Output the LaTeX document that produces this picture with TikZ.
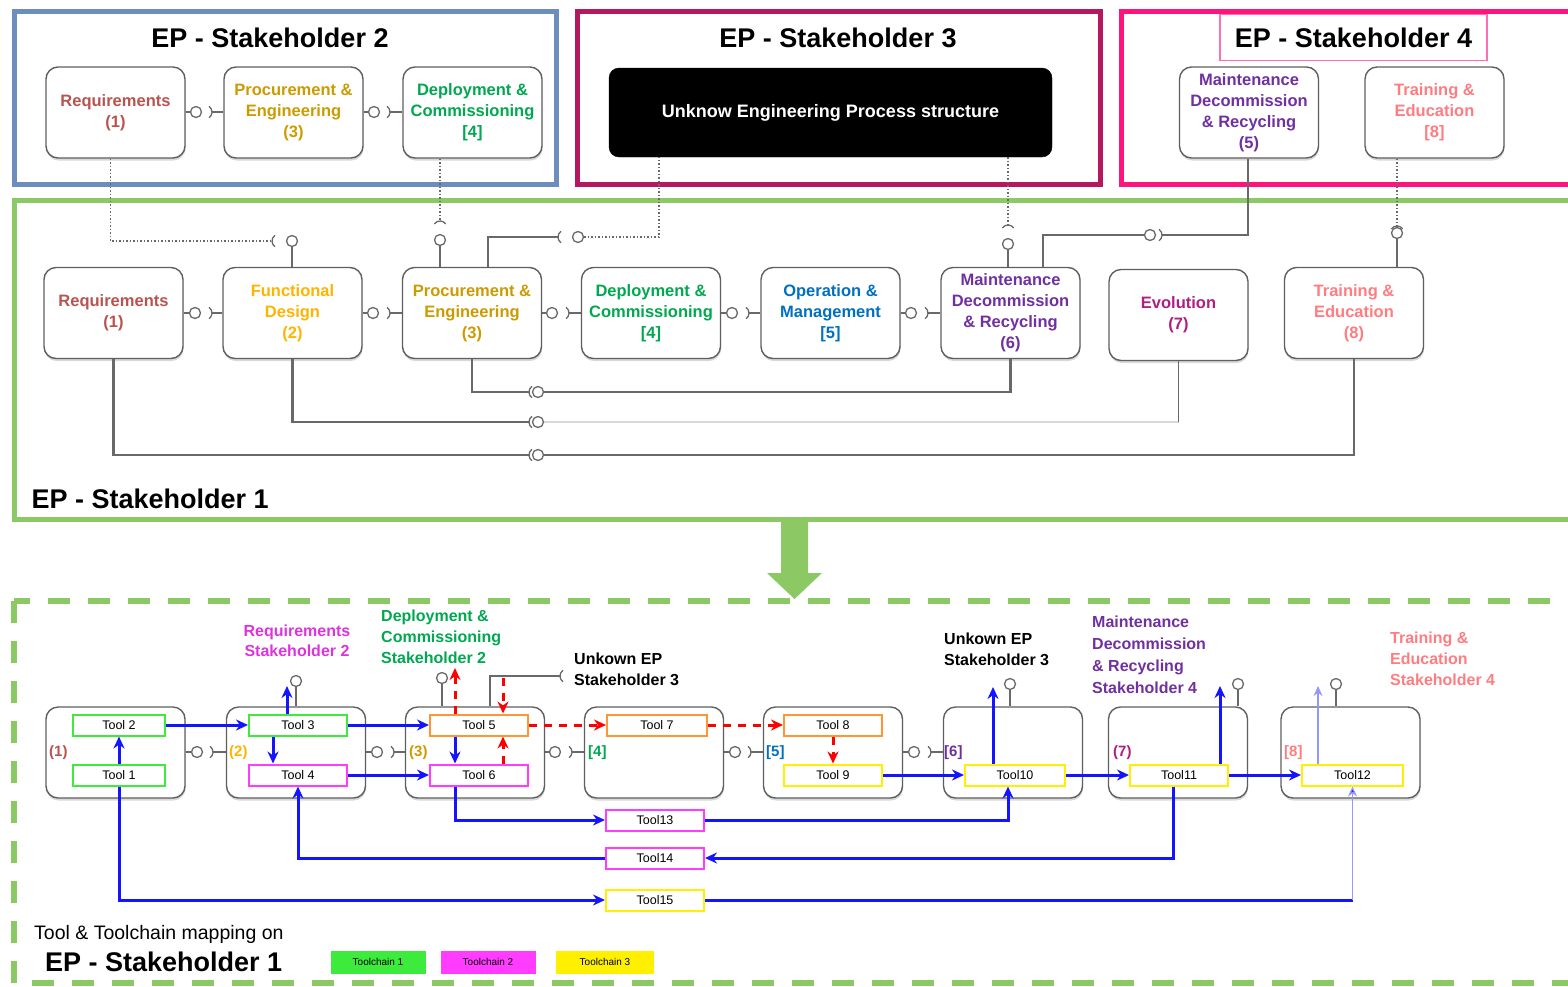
\documentclass[tikz,border=0pt]{standalone}
\usepackage{fontspec}
\setmainfont{Liberation Sans}
\usetikzlibrary{arrows.meta,shadows}

% frame colours
\definecolor{shTwo}{RGB}{108,142,191}
\definecolor{shThree}{RGB}{181,24,95}
\definecolor{shFour}{RGB}{255,20,125}
\definecolor{shFourLight}{RGB}{255,110,180}
\definecolor{shOne}{RGB}{140,200,100}
\definecolor{boxGray}{RGB}{95,95,95}
% phase colours
\definecolor{cReq}{RGB}{184,84,80}
\definecolor{cFunc}{RGB}{255,180,0}
\definecolor{cProc}{RGB}{204,155,0}
\definecolor{cDep}{RGB}{0,168,80}
\definecolor{cOp}{RGB}{0,112,192}
\definecolor{cMaint}{RGB}{112,48,160}
\definecolor{cEvo}{RGB}{176,30,130}
\definecolor{cTrain}{RGB}{255,124,128}
\definecolor{cReqTwo}{RGB}{221,51,221}
% toolchain colours
\definecolor{tcGreen}{RGB}{60,235,60}
\definecolor{tcMagenta}{RGB}{255,60,255}
\definecolor{tcYellow}{RGB}{255,240,0}
\definecolor{tcOrange}{RGB}{255,150,50}
\definecolor{flowBlue}{RGB}{20,20,255}
\definecolor{lightBlue}{RGB}{150,150,255}
\definecolor{flowRed}{RGB}{255,0,0}
\definecolor{connGray}{RGB}{105,105,105}

\newcommand{\fsz}[2]{\fontsize{#1}{#2}\selectfont}

\tikzset{
  shframe/.style={line width=5pt},
  procbox/.style={draw=boxGray, line width=1.4pt, rounded corners=12pt,
    minimum width=139pt, minimum height=91pt, fill=white, align=center,
    inner sep=0pt, font=\bfseries\fsz{16.5}{21},
    drop shadow={shadow xshift=0.5pt, shadow yshift=-2.5pt, opacity=0.3, fill=gray}},
  toolbox/.style={draw, line width=2pt, fill=white, minimum width=98pt,
    minimum height=21pt, inner sep=0pt, font=\fsz{12.5}{14}},
  ballnode/.style={circle, draw=connGray, line width=1.3pt, minimum size=11pt,
    inner sep=0pt, fill=white},
  conn/.style={draw=connGray, line width=1.3pt},
  backconn/.style={draw=connGray, line width=2.2pt},
  dotconn/.style={draw=connGray, line width=1.2pt, dash pattern=on 1.5pt off 2pt},
  blueflow/.style={draw=flowBlue, line width=3pt, -{Stealth[length=12pt,width=11pt]}},
  redflow/.style={draw=flowRed, line width=3pt, dash pattern=on 8pt off 7pt,
    -{Stealth[length=12pt,width=11pt]}},
  ttl/.style={font=\bfseries\fsz{27}{30}},
  annot/.style={font=\bfseries\fsz{16}{21}, align=left, inner sep=0pt, anchor=west},
  lvl/.style={font=\bfseries\fsz{15}{17}, inner sep=0pt, anchor=west},
  % sockets: apex at the pic origin
  sockL/.pic={\draw[conn] (-2.985,-5.734) arc[start angle=-55,end angle=55,radius=7];},
  sockR/.pic={\draw[conn] (2.985,-5.734) arc[start angle=235,end angle=125,radius=7];},
  sockD/.pic={\draw[conn] (-5.734,2.985) arc[start angle=215,end angle=325,radius=7];},
}

% ball-and-socket link between two neighbouring boxes
\newcommand{\lolly}[6]{%
  \node[ballnode] (#6b) at (#3,#5) {};
  \coordinate (#6s) at (#4,#5);
  \draw[conn] (#1.east |- #6b) -- (#6b);
  \draw[conn] (#6s) -- (#6s -| #2.west);
  \pic at (#6s) {sockL};
}

\begin{document}
\begin{tikzpicture}[x=1pt,y=-1pt]
\useasboundingbox (0,0) rectangle (1568,986);

% ---------------- Stakeholder 2 ----------------
\draw[shframe, draw=shTwo] (14,11) rectangle (556,184);
\node[ttl] (ttlTwo) at (270,38) {EP - Stakeholder 2};
\node[procbox, text=cReq]  (t_req)  at (115.5,112.5) {Requirements\\(1)};
\node[procbox, text=cProc] (t_proc) at (293.5,112.5) {Procurement \&\\Engineering\\(3)};
\node[procbox, text=cDep]  (t_dep)  at (472.5,112.5) {Deployment \&\\Commissioning\\{[4]}};
\lolly{t_req}{t_proc}{196}{212}{112}{tA}
\lolly{t_proc}{t_dep}{374}{390}{112}{tB}

% ---------------- Stakeholder 3 ----------------
\draw[shframe, draw=shThree] (577,11) rectangle (1100,184);
\node[ttl] (ttlThree) at (838,38) {EP - Stakeholder 3};
\node[draw=black, fill=black, rounded corners=10pt, minimum width=443pt,
      minimum height=89pt, text=white, font=\bfseries\fsz{18}{21}]
      (unk) at (830.5,112.5) {Unknow Engineering Process structure};

% ---------------- Stakeholder 4 ----------------
\draw[shframe, draw=shFour] (1121,11) rectangle (1600,184);
\node[draw=shFourLight, line width=1.5pt, minimum width=267pt, minimum height=46pt,
      ttl] (ttlFour) at (1353.5,37.5) {EP - Stakeholder 4};
\node[procbox, text=cMaint] (t_maint) at (1249,112.5) {Maintenance\\Decommission\\\& Recycling\\(5)};
\node[procbox, text=cTrain] (t_train) at (1434.5,112.5) {Training \&\\Education\\{[8]}};

% ---------------- Stakeholder 1 ----------------
\draw[shframe, draw=shOne] (14,200) rectangle (1600,519);
\node[ttl, anchor=west] (ttlOne) at (28,499) {EP - Stakeholder 1};

\node[procbox, text=cReq]   (s_req)   at (113.5,313) {Requirements\\(1)};
\node[procbox, text=cFunc]  (s_fd)    at (292.5,313) {Functional\\Design\\(2)};
\node[procbox, text=cProc]  (s_proc)  at (472,313)   {Procurement \&\\Engineering\\(3)};
\node[procbox, text=cDep]   (s_dep)   at (651,313)   {Deployment \&\\Commissioning\\{[4]}};
\node[procbox, text=cOp]    (s_op)    at (830.5,313) {Operation \&\\Management\\{[5]}};
\node[procbox, text=cMaint] (s_maint) at (1010.5,313) {Maintenance\\Decommission\\\& Recycling\\(6)};
\node[procbox, text=cEvo]   (s_evo)   at (1178.5,315) {Evolution\\(7)};
\node[procbox, text=cTrain] (s_train) at (1354,313)  {Training \&\\Education\\(8)};

\lolly{s_req}{s_fd}{195}{212}{313}{sA}
\lolly{s_fd}{s_proc}{373}{390}{313}{sB}
\lolly{s_proc}{s_dep}{552}{569}{313}{sC}
\lolly{s_dep}{s_op}{732}{749}{313}{sD}
\lolly{s_op}{s_maint}{911}{928}{313}{sE}

% links from the other stakeholders
\coordinate (u1) at (272,241);
\draw[dotconn] ([xshift=-5pt]t_req.south) |- (u1);
\pic at (u1) {sockR};
\node[ballnode] (ub1) at (292,241) {};
\draw[conn] (ub1) -- (ub1 |- s_fd.north);

\coordinate (u2) at (440,221);
\draw[dotconn] (t_dep.south -| u2) -- (u2);
\pic at (u2) {sockD};
\node[ballnode] (ub2) at (440,240) {};
\draw[conn] (ub2) -- (ub2 |- s_proc.north);

\coordinate (u3) at (558,237);
\draw[conn] ([xshift=16pt]s_proc.north) |- (u3);
\pic at (u3) {sockR};
\node[ballnode] (ub3) at (578,237) {};
\draw[dotconn] (ub3) -| ([xshift=-171.5pt]unk.south);

\coordinate (u4) at (1008,225);
\draw[dotconn] ([xshift=177.5pt]unk.south) -- (u4);
\pic at (u4) {sockD};
\node[ballnode] (ub4) at (1008,244) {};
\draw[conn] (ub4) -- (ub4 |- s_maint.north);

\node[ballnode] (ub5) at (1150,235) {};
\coordinate (u5) at (1162,235);
\draw[conn] (ub5) -| ([xshift=32.5pt]s_maint.north);
\draw[conn] (u5) -| ([xshift=-1pt]t_maint.south);
\pic at (u5) {sockL};

\coordinate (u6) at (1397,226);
\draw[dotconn] (t_train.south -| u6) -- (u6);
\pic at (u6) {sockD};
\node[ballnode] (ub6) at (1397,233) {};
\draw[conn] (ub6) -- (ub6 |- s_train.north);

% feedback links inside stakeholder 1
\coordinate (lk1) at (529,392);
\draw[backconn] (s_proc.south) |- (lk1);
\draw[backconn] (538,392) -| (s_maint.south);
\pic at (lk1) {sockR};
\node[ballnode] (lb1) at (538,392) {};

\coordinate (lk2) at (529,422);
\draw[backconn] (s_fd.south) |- (lk2);
\draw[conn, draw=black!15] (538,422) -- (lk2 -| s_evo.south);
\draw[conn] (lk2 -| s_evo.south) -- (s_evo.south);
\pic at (lk2) {sockR};
\node[ballnode] (lb2) at (538,422) {};

\coordinate (lk3) at (529,455);
\draw[backconn] (s_req.south) |- (lk3);
\draw[backconn] (538,455) -| (s_train.south);
\pic at (lk3) {sockR};
\node[ballnode] (lb3) at (538,455) {};

% mapping arrow
\fill[shOne] (781,521) -- (808,521) -- (808,573) -- (822,573) -- (794.5,599)
  -- (767,573) -- (781,573) -- cycle;

% ---------------- tool mapping ----------------
\draw[draw=shOne, line width=6pt, dash pattern=on 22pt off 18pt] (14,601) rectangle (1600,983);

\node[procbox] (pA) at (115.5,752.5) {};
\node[procbox] (pB) at (296,752.5) {};
\node[procbox] (pC) at (475,752.5) {};
\node[procbox] (pD) at (654,752.5) {};
\node[procbox] (pE) at (833,752.5) {};
\node[procbox] (pF) at (1013,752.5) {};
\node[procbox] (pG) at (1178,752.5) {};
\node[procbox] (pH) at (1350.5,752.5) {};

\lolly{pA}{pB}{197}{213}{752}{pAB}
\lolly{pB}{pC}{377}{394}{752}{pBC}
\lolly{pC}{pD}{555}{572}{752}{pCD}
\lolly{pD}{pE}{735}{751}{752}{pDE}
\lolly{pE}{pF}{914}{931}{752}{pEF}

\node[lvl, text=cReq]   (lvA) at (49,753)   {(1)};
\node[lvl, text=cFunc]  (lvB) at (229,753)  {(2)};
\node[lvl, text=cProc]  (lvC) at (409,753)  {(3)};
\node[lvl, text=cDep]   (lvD) at (588,753)  {[4]};
\node[lvl, text=cOp]    (lvE) at (766,753)  {[5]};
\node[lvl, text=cMaint] (lvF) at (944,753)  {[6]};
\node[lvl, text=cEvo]   (lvG) at (1113,753) {(7)};
\node[lvl, text=cTrain] (lvH) at (1284,753) {[8]};

\node[toolbox, draw=tcGreen, minimum width=92pt] (tl2) at (119,725) {Tool 2};
\node[toolbox, draw=tcGreen, minimum width=92pt] (tl1) at (119,775) {Tool 1};
\node[toolbox, draw=tcGreen]   (tl3)  at (298,725)  {Tool 3};
\node[toolbox, draw=tcMagenta] (tl4)  at (298,775)  {Tool 4};
\node[toolbox, draw=tcOrange]  (tl5)  at (479,725)  {Tool 5};
\node[toolbox, draw=tcMagenta] (tl6)  at (479,775)  {Tool 6};
\node[toolbox, draw=tcOrange, minimum width=100pt] (tl7) at (657,725) {Tool 7};
\node[toolbox, draw=tcOrange]  (tl8)  at (833,725)  {Tool 8};
\node[toolbox, draw=tcYellow]  (tl9)  at (833,775)  {Tool 9};
\node[toolbox, draw=tcYellow, minimum width=100pt] (tl10) at (1015,775) {Tool10};
\node[toolbox, draw=tcYellow]  (tl11) at (1179,775) {Tool11};
\node[toolbox, draw=tcYellow, minimum width=101pt] (tl12) at (1352.5,775) {Tool12};
\node[toolbox, draw=tcMagenta] (tl13) at (655,820) {Tool13};
\node[toolbox, draw=tcMagenta] (tl14) at (655,858) {Tool14};
\node[toolbox, draw=tcYellow]  (tl15) at (655,900) {Tool15};

% interfaces on top of the phases
\node[ballnode] (bB) at (296,681) {};
\draw[conn] (bB) -- (bB |- pB.north);
\node[ballnode] (bC) at (442,678) {};
\draw[conn] (bC) -- (bC |- pC.north);
\coordinate (kC) at (560,676);
\draw[conn] ([xshift=15pt]pC.north) |- (kC);
\pic at (kC) {sockR};
\node[ballnode] (bF) at (1010,684) {};
\draw[conn] (bF) -- (bF |- pF.north);
\node[ballnode] (bG) at (1238,684) {};
\draw[conn] (bG) -- (bG |- pG.north);
\node[ballnode] (bH) at (1336,684) {};
\draw[conn] (bH) -- (bH |- pH.north);

% toolchain flows
\draw[blueflow] (tl1) -- (tl2);
\draw[blueflow] (tl2) -- (tl3);
\coordinate (upB) at (287,686);
\draw[blueflow] (upB |- tl3.north) -- (upB);
\draw[blueflow] ([xshift=-25pt]tl3.south) -- ([xshift=-25pt]tl4.north);
\draw[blueflow] (tl3) -- (tl5);
\draw[blueflow] (tl4) -- (tl6);
\draw[blueflow] ([xshift=-24pt]tl5.south) -- ([xshift=-24pt]tl6.north);
\draw[blueflow] ([xshift=-24pt]tl6.south) |- (tl13);
\draw[blueflow] (tl13) -| ([xshift=-7pt]tl10.south);
\draw[blueflow] (tl9) -- (tl10);
\coordinate (upF) at (993,687);
\draw[blueflow] (upF |- tl10.north) -- (upF);
\draw[blueflow] (tl10) -- (tl11);
\coordinate (upG) at (1220,686);
\draw[blueflow] (upG |- tl11.north) -- (upG);
\draw[blueflow] ([xshift=-6pt]tl11.south) |- (tl14);
\draw[blueflow] (tl14) -| (tl4.south);
\draw[blueflow] (tl11) -- (tl12);
\coordinate (upH) at (1318,686);
\draw[draw=lightBlue, line width=1.2pt, -{Stealth[length=10pt,width=9pt]}] (upH |- tl12.north) -- (upH);
\draw[blueflow] (tl1.south) |- (tl15);
\draw[draw=flowBlue, line width=3pt] (tl15) -- (tl15 -| tl12.south);
\draw[draw=lightBlue, line width=1.2pt, -{Stealth[length=10pt,width=9pt,fill=flowBlue]}]
  (tl15 -| tl12.south) -- (tl12.south);

\coordinate (upC) at (455,668);
\draw[redflow] (upC |- tl5.north) -- (upC);
\coordinate (inC) at (503,678);
\draw[redflow] (inC) -- (inC |- tl5.north);
\draw[redflow] ([xshift=24pt]tl6.north) -- ([xshift=24pt]tl5.south);
\draw[redflow] (tl5) -- (tl7);
\draw[redflow] (tl7) -- (tl8);
\draw[redflow] (tl8) -- (tl9);

% annotations
\node[font=\bfseries\fsz{16}{20}, text=cReqTwo, align=center, inner sep=0pt]
  (nReq) at (297,641) {Requirements\\Stakeholder 2};
\node[annot, text=cDep] (nDep) at (381,637) {Deployment \&\\Commissioning\\Stakeholder 2};
\node[annot] (nUnkA) at (574,669.5) {Unkown EP\\Stakeholder 3};
\node[annot] (nUnkB) at (944,649.5) {Unkown EP\\Stakeholder 3};
\node[annot, text=cMaint, font=\bfseries\fsz{16}{22}] (nMaint) at (1092,655) {Maintenance\\Decommission\\\& Recycling\\Stakeholder 4};
\node[annot, text=cTrain] (nTrain) at (1390,659) {Training \&\\Education\\Stakeholder 4};

% legend
\node[anchor=west, inner sep=0pt, font=\fsz{19.5}{22}] (legA) at (34,934) {Tool \& Toolchain mapping on};
\node[ttl, anchor=west, inner sep=0pt] (legB) at (45,962) {EP - Stakeholder 1};
\node[fill=tcGreen, minimum width=95pt, minimum height=23pt, inner sep=0pt, font=\fsz{10}{12}] (lg1) at (378,962) {Toolchain 1};
\node[fill=tcMagenta, minimum width=95pt, minimum height=23pt, inner sep=0pt, font=\fsz{10}{12}] (lg2) at (488,962) {Toolchain 2};
\node[fill=tcYellow, minimum width=98pt, minimum height=23pt, inner sep=0pt, font=\fsz{10}{12}] (lg3) at (605,962) {Toolchain 3};
\end{tikzpicture}
\end{document}
